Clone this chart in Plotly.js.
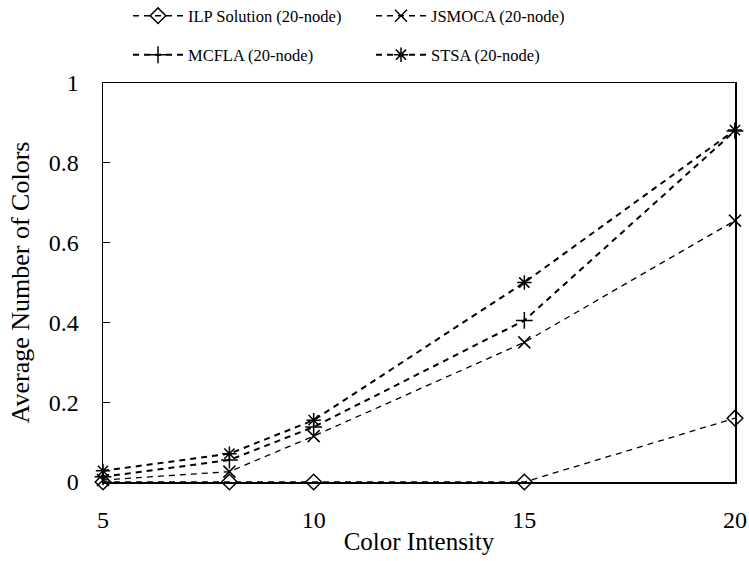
<!DOCTYPE html>
<html>
<head>
<meta charset="utf-8">
<script src="https://cdn.plot.ly/plotly-3.0.1.min.js"></script>
<style>html,body{margin:0;padding:0;background:#fff;}#chart{width:749px;height:561px;}</style>
</head>
<body>
<div id="chart"></div>
<script>
const intensity = [5, 8, 10, 15, 20];
const ilp = [0, 0, 0, 0, 0.16];
const jsmoca = [0.005, 0.026, 0.115, 0.35, 0.655];
const mcfla = [0.013, 0.055, 0.138, 0.405, 0.88];
const stsa = [0.028, 0.071, 0.155, 0.5, 0.882];
const seriesNames = ['ILP Solution (20-node)', 'JSMOCA (20-node)', 'MCFLA (20-node)', 'STSA (20-node)'];
const xTicks = [5, 10, 15, 20];
const yTicks = [0, 0.2, 0.4, 0.6, 0.8, 1];

const font = 'Liberation Serif';
function tr(y, name, symbol, width, legend) {
  return {
    x: intensity, y: y, name: name, type: 'scatter', mode: 'lines+markers',
    line: {color: '#000', width: width, dash: '6px,5px'},
    marker: {symbol: symbol, size: 12, color: '#000', line: {color: '#000', width: 1.5}},
    legend: legend, cliponaxis: false
  };
}
const data = [
  tr(ilp, seriesNames[0], 'diamond-open', 1.3, 'legend'),
  tr(jsmoca, seriesNames[1], 'x-thin-open', 1.3, 'legend'),
  tr(mcfla, seriesNames[2], 'cross-thin-open', 2, 'legend2'),
  tr(stsa, seriesNames[3], 'asterisk-open', 2, 'legend2')
];
const legBase = {
  orientation: 'h', xanchor: 'left', yanchor: 'middle',
  font: {family: font, size: 16.5, color: '#000'}, entrywidth: 178, entrywidthmode: 'pixels',
  bgcolor: 'rgba(0,0,0,0)', itemwidth: 50
};
const layout = {
  width: 749, height: 561,
  margin: {l: 103, r: 14, t: 83, b: 79, autoexpand: false},
  paper_bgcolor: '#fff', plot_bgcolor: '#fff',
  font: {family: font, size: 18, color: '#000'},
  showlegend: true,
  legend: Object.assign({}, legBase, {x: (128 - 103) / 632, y: 1 + (83 - 16) / 399}),
  legend2: Object.assign({}, legBase, {x: (128 - 103) / 632, y: 1 + (83 - 55) / 399}),
  xaxis: {
    range: [5, 20], tickvals: xTicks, ticktext: xTicks.map(String),
    showgrid: false, zeroline: false, showline: true, linecolor: '#000', linewidth: 1.5,
    mirror: true, ticks: '', ticklabelstandoff: 16,
    tickfont: {family: font, size: 24, color: '#000'},
    title: {text: 'Color Intensity', font: {family: font, size: 25, color: '#000'}, standoff: 0}
  },
  yaxis: {
    range: [0, 1], tickvals: yTicks, ticktext: ['0', '0.2', '0.4', '0.6', '0.8', '1'],
    showgrid: false, zeroline: false, showline: true, linecolor: '#000', linewidth: 1.5,
    mirror: true, ticks: 'inside', ticklen: 7, tickwidth: 1, tickcolor: '#000',
    ticklabelstandoff: 18,
    tickfont: {family: font, size: 24, color: '#000'},
    title: {text: 'Average Number of Colors', font: {family: font, size: 26, color: '#000'}, standoff: 11}
  }
};
Plotly.newPlot('chart', data, layout, {displayModeBar: false, staticPlot: true});
</script>
</body>
</html>
